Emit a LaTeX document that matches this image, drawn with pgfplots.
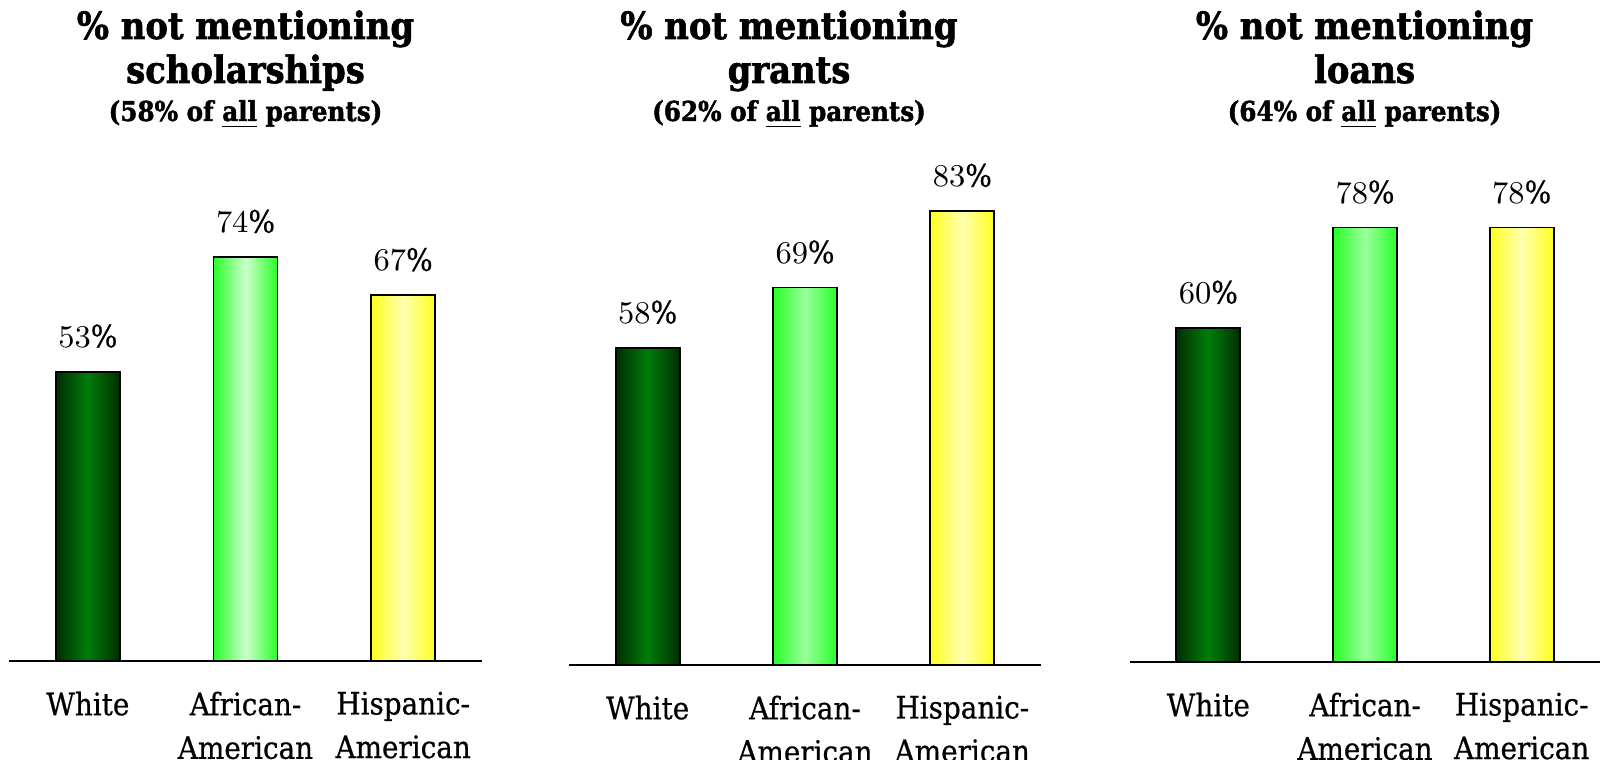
\documentclass[border=0pt]{standalone}
\usepackage{pgfplots}
\pgfplotsset{compat=1.18}
\usepackage{fontspec}
\setmainfont{DejaVu Serif Condensed}[BoldFont={DejaVu Serif Condensed Bold}, FakeBold=0.6]
\newfontfamily\heavy{DejaVu Serif Condensed Bold}[FakeBold=1.6]
\definecolor{dgA}{RGB}{0,45,0}
\definecolor{dgB}{RGB}{0,125,10}
\definecolor{lgA}{RGB}{40,255,40}
\definecolor{lgB}{RGB}{205,255,205}
\definecolor{lgC}{RGB}{155,255,155}
\definecolor{ylA}{RGB}{255,255,30}
\definecolor{ylB}{RGB}{255,255,175}
\pgfplotsset{
  panel/.style={
    scale only axis, anchor=south west,
    xmin=-0.5, xmax=2.5, ymin=0, ymax=100,
    axis x line=bottom, axis y line=none,
    x axis line style={-, line width=0.6pt},
    xtick={0,1,2},
    xticklabels={White, {African-\\American}, {Hispanic-\\American}},
    xtick style={draw=none}, major tick length=0pt,
    xticklabel style={font=\fontsize{8.8}{12.4}\selectfont, align=center, anchor=north, inner sep=0pt, yshift=-0.30cm},
    ytick=\empty, clip=false,
    nodes near coords={\pgfmathprintnumber{\pgfplotspointmeta}\%},
    every node near coord/.append style={font=\fontsize{8.8}{10}\selectfont, anchor=south, inner sep=0pt, yshift=0.23cm},
  },
  barstyle/.style={ybar, bar width=0.64cm, bar shift=0pt, draw=black, line width=0.5pt},
}
\begin{document}
\begin{tikzpicture}
\useasboundingbox (0,0) rectangle (16,7.59);
% Panel 1
\begin{axis}[panel, at={(0.09cm,0.98cm)}, width=4.73cm, height=5.46cm]
\addplot[barstyle, left color=dgA, right color=dgA, middle color=dgB] coordinates {(0,53)};
\addplot[barstyle, left color=lgA, right color=lgA, middle color=lgB] coordinates {(1,74)};
\addplot[barstyle, left color=ylA, right color=ylA, middle color=ylB] coordinates {(2,67)};
\end{axis}
% Panel 2
\begin{axis}[panel, at={(5.69cm,0.94cm)}, width=4.72cm, height=5.47cm]
\addplot[barstyle, left color=dgA, right color=dgA, middle color=dgB] coordinates {(0,58)};
\addplot[barstyle, left color=lgA, right color=lgA, middle color=lgC] coordinates {(1,69)};
\addplot[barstyle, left color=ylA, right color=ylA, middle color=ylB] coordinates {(2,83)};
\end{axis}
% Panel 3
\begin{axis}[panel, at={(11.30cm,0.97cm)}, width=4.70cm, height=5.57cm]
\addplot[barstyle, left color=dgA, right color=dgA, middle color=dgB] coordinates {(0,60)};
\addplot[barstyle, left color=lgA, right color=lgA, middle color=lgC] coordinates {(1,78)};
\addplot[barstyle, left color=ylA, right color=ylA, middle color=ylB] coordinates {(2,78)};
\end{axis}
% Titles
\tikzset{t1/.style={anchor=base, inner sep=0pt, font=\fontsize{10.7}{12}\selectfont\heavy},
         t2/.style={anchor=base, inner sep=0pt, font=\fontsize{7.8}{9}\selectfont\heavy}}
\node[t1] at (2.455,7.20) {\% not mentioning};
\node[t1] at (2.455,6.76) {scholarships};
\node[t2] at (2.455,6.38) {(58\% of \underline{all} parents)};
\node[t1] at (7.89,7.20) {\% not mentioning};
\node[t1] at (7.89,6.76) {grants};
\node[t2] at (7.89,6.38) {(62\% of \underline{all} parents)};
\node[t1] at (13.645,7.20) {\% not mentioning};
\node[t1] at (13.645,6.76) {loans};
\node[t2] at (13.645,6.38) {(64\% of \underline{all} parents)};
\end{tikzpicture}
\end{document}
